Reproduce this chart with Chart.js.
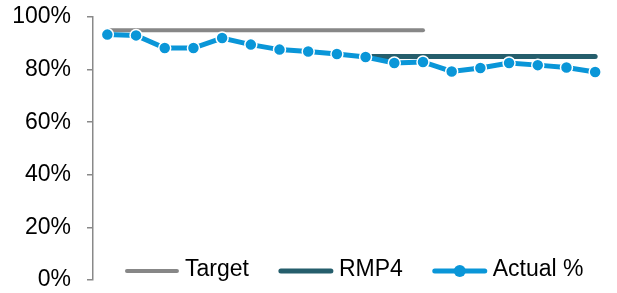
<!DOCTYPE html>
<html>
<head>
<meta charset="utf-8">
<script src="https://cdn.jsdelivr.net/npm/chart.js@4"></script>
<style>
  html, body { margin: 0; padding: 0; background: #fff; }
  #wrap { width: 617px; height: 293px; }
</style>
</head>
<body>
<div id="wrap"><canvas id="actualChart"></canvas></div>
<script>
const periods = ['1', '2', '3', '4', '5', '6', '7', '8', '9', '10', '11', '12', '13', '14', '15', '16', '17', '18'];
const target = [95, 95, 95, 95, 95, 95, 95, 95, 95, 95, 95, 95, null, null, null, null, null, null];
const rmp4 = [null, null, null, null, null, null, null, null, null, 85, 85, 85, 85, 85, 85, 85, 85, 85];
const actual = [93.3, 93.0, 88.2, 88.2, 92.0, 89.5, 87.6, 86.9, 85.9, 84.8, 82.5, 82.9, 79.3, 80.6, 82.5, 81.7, 80.8, 79.1];
const yTicks = [0, 20, 40, 60, 80, 100];

const FONT = '23px "Liberation Sans", Arial, sans-serif';

// legend drawn inside the plot, near the bottom
const bottomLegend = {
    id: 'bottomLegend',
    afterDraw(chart) {
        const ctx = chart.ctx;
        const area = chart.chartArea;
        ctx.save();
        ctx.font = FONT;
        const lineLen = 54, gapText = 6, gapItem = 30;
        const items = chart.data.datasets.map(ds => ({ ds, w: ctx.measureText(ds.label).width }));
        let total = 0;
        items.forEach((it, i) => { total += lineLen + gapText + it.w + (i < items.length - 1 ? gapItem : 0); });
        let x = (area.left + area.right) / 2 + 3 - total / 2;
        const y = 271;
        items.forEach(it => {
            const ds = it.ds;
            ctx.strokeStyle = ds.borderColor;
            ctx.lineWidth = ds.borderWidth;
            ctx.lineCap = 'round';
            ctx.beginPath();
            ctx.moveTo(x + 2, y);
            ctx.lineTo(x + lineLen - 2, y);
            ctx.stroke();
            if (ds.pointRadius > 0) {
                ctx.fillStyle = ds.pointBackgroundColor;
                ctx.beginPath();
                ctx.arc(x + lineLen / 2, y, ds.pointRadius, 0, Math.PI * 2);
                ctx.fill();
            }
            ctx.fillStyle = '#000';
            ctx.textBaseline = 'middle';
            ctx.textAlign = 'left';
            ctx.fillText(ds.label, x + lineLen + gapText, y - 1);
            x += lineLen + gapText + it.w + gapItem;
        });
        ctx.restore();
    }
};

new Chart(document.getElementById('actualChart'), {
    type: 'line',
    data: {
        labels: periods,
        datasets: [
            { label: 'Target', data: target, borderColor: '#878787', borderWidth: 4, pointRadius: 0, borderCapStyle: 'round', spanGaps: false, order: 3 },
            { label: 'RMP4', data: rmp4, borderColor: '#255E6C', borderWidth: 5, pointRadius: 0, borderCapStyle: 'round', spanGaps: false, order: 2 },
            { label: 'Actual %', data: actual, borderColor: '#0A96D8', borderWidth: 5, pointRadius: 6, pointBackgroundColor: '#0A96D8',
              pointBorderColor: '#ffffff', pointBorderWidth: 1.5, tension: 0, order: 1 }
        ]
    },
    options: {
        responsive: true,
        maintainAspectRatio: false,
        animation: false,
        layout: { padding: { top: 17, bottom: 13, right: 2, left: 0 } },
        plugins: { legend: { display: false }, tooltip: { enabled: false } },
        scales: {
            x: { display: false, offset: true },
            y: {
                min: 0, max: 100,
                afterFit: s => { s.width = 93; s.paddingTop = 0; s.paddingBottom = 0; },
                afterBuildTicks: s => { s.ticks = yTicks.map(v => ({ value: v })); },
                grid: { drawOnChartArea: false, drawTicks: true, tickLength: 6, color: '#898989', lineWidth: 1.5 },
                border: { display: true, color: '#898989', width: 1.5 },
                ticks: { padding: 16, color: '#000', font: { family: '"Liberation Sans", Arial, sans-serif', size: 23 }, callback: v => v + '%' }
            }
        }
    },
    plugins: [bottomLegend]
});
</script>
</body>
</html>
